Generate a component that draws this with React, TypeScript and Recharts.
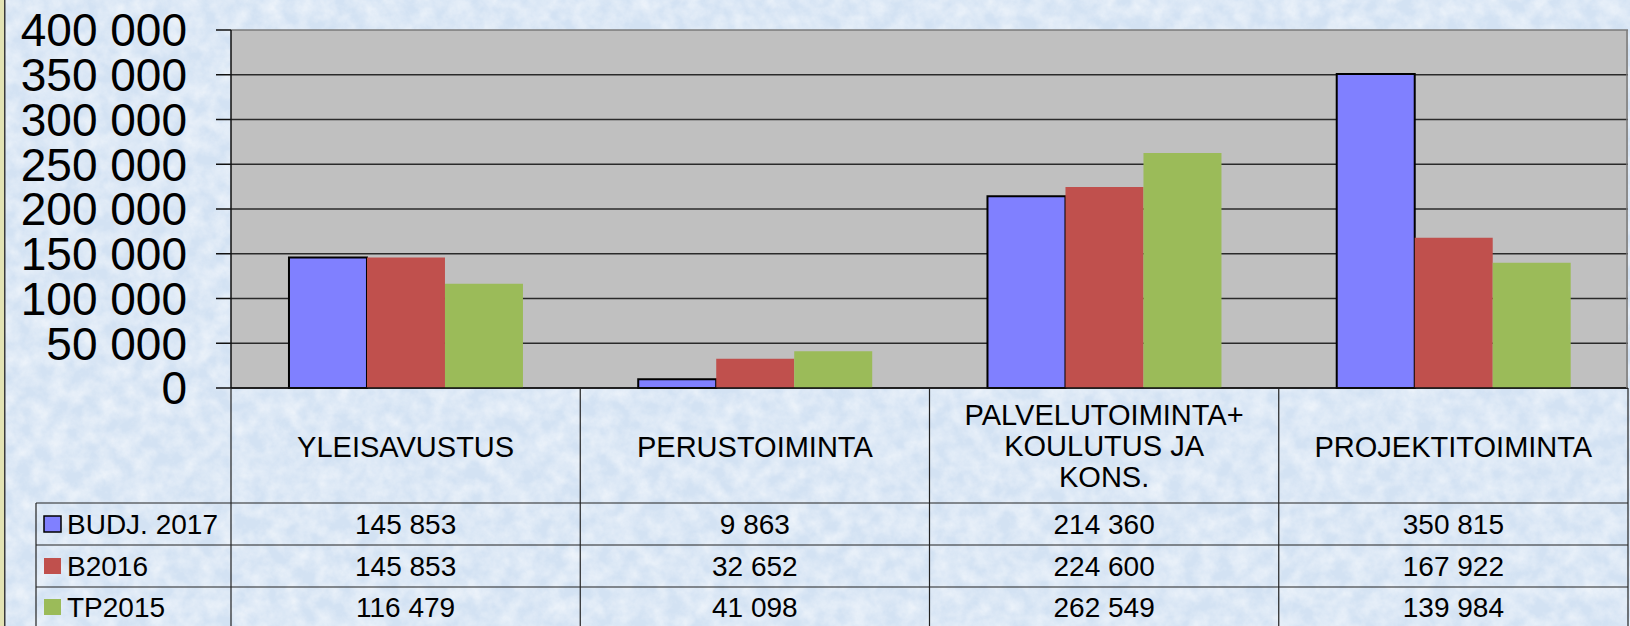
import { BarChart, Bar, XAxis, YAxis, CartesianGrid } from 'recharts'

const categories = ['YLEISAVUSTUS', 'PERUSTOIMINTA', 'PALVELUTOIMINTA+ KOULUTUS JA KONS.', 'PROJEKTITOIMINTA']
const categoryLines = [['YLEISAVUSTUS'], ['PERUSTOIMINTA'], ['PALVELUTOIMINTA+', 'KOULUTUS JA', 'KONS.'], ['PROJEKTITOIMINTA']]
const budj2017 = [145853, 9863, 214360, 350815]
const b2016 = [145853, 32652, 224600, 167922]
const tp2015 = [116479, 41098, 262549, 139984]
const yTicks = [0, 50000, 100000, 150000, 200000, 250000, 300000, 350000, 400000]

const series = [
  { key: 'budj', name: 'BUDJ. 2017', values: budj2017, color: '#8080ff', stroke: '#000' },
  { key: 'b16', name: 'B2016', values: b2016, color: '#c0504d', stroke: 'none' },
  { key: 'tp15', name: 'TP2015', values: tp2015, color: '#9bbb59', stroke: 'none' },
]

const rows = categories.map((c, i) => ({
  name: c,
  budj: budj2017[i],
  b16: b2016[i],
  tp15: tp2015[i],
}))

// layout
const W = 1630
const H = 626
const PLOT_LEFT = 231
const PLOT_RIGHT = 1628
const PLOT_TOP = 30
const AXIS_Y = 388
const BAND = (PLOT_RIGHT - PLOT_LEFT) / categories.length
const TABLE_LEFT = 36
const ROW_TOPS = [115, 157, 199] // relative to axis
const ROW_MID = [136, 178, 219]
const LINE = '#222'
const FONT = "'Liberation Sans', Arial, sans-serif"

const fmt = (n: number) => String(n).replace(/\B(?=(\d{3})+(?!\d))/g, ' ')

function TableTick(props: any) {
  const { x, y, index } = props
  const left = x - BAND / 2
  const right = x + BAND / 2
  const lines = categoryLines[index]
  const lineY = lines.length === 1 ? [59] : [27, 58, 89]
  const last = index === categories.length - 1
  return (
    <g fontFamily={FONT} fontSize={28} fill="#000">
      <line x1={left} y1={y} x2={left} y2={H} stroke={LINE} strokeWidth={1.2} />
      {last && <line x1={right} y1={y} x2={right} y2={H} stroke={LINE} strokeWidth={1.2} />}
      {last && <line x1={right - 1} y1={PLOT_TOP} x2={right - 1} y2={y} stroke="#7a7a7a" strokeWidth={1.5} />}
      {lines.map((t, k) => (
        <text key={k} x={x} y={y + lineY[k]} fontSize={29} textAnchor="middle" dominantBaseline="central">{t}</text>
      ))}
      {ROW_TOPS.map((r, k) => (
        <line key={k} x1={index === 0 ? TABLE_LEFT : left} y1={y + r} x2={right} y2={y + r} stroke={LINE} strokeWidth={1.2} />
      ))}
      {series.map((s, k) => (
        <text key={s.key} x={x} y={y + ROW_MID[k]} textAnchor="middle" dominantBaseline="central">{fmt(s.values[index])}</text>
      ))}
      {index === 0 && (
        <g>
          <line x1={TABLE_LEFT} y1={y + ROW_TOPS[0]} x2={TABLE_LEFT} y2={H} stroke={LINE} strokeWidth={1.2} />
          {series.map((s, k) => (
            <g key={s.key}>
              <rect x={44} y={y + ROW_MID[k] - 8} width={17} height={16} fill={s.color}
                stroke={s.stroke === 'none' ? 'none' : '#000'} strokeWidth={1.5} />
              <text x={67} y={y + ROW_MID[k]} dominantBaseline="central">{s.name}</text>
            </g>
          ))}
        </g>
      )}
    </g>
  )
}

function GridLine(props: any) {
  const { x1, y1, x2, y2 } = props
  return <line x1={x1} y1={y1} x2={x2} y2={y2} stroke={y1 <= PLOT_TOP + 1 ? '#7a7a7a' : '#2a2a2a'} strokeWidth={1.5} />
}

function Texture() {
  return (
    <svg width={W} height={H} style={{ position: 'absolute', left: 0, top: 0 }}>
      <defs>
        <filter id="tex" x="0" y="0" width="100%" height="100%">
          <feTurbulence type="fractalNoise" baseFrequency="0.06" numOctaves={4} seed={7} />
          <feColorMatrix type="matrix" values="0 0 0 0 1  0 0 0 0 1  0 0 0 0 1  1.6 0 0 0 -0.45" />
        </filter>
      </defs>
      <rect width={W} height={H} fill="#d3e2f3" />
      <rect width={W} height={H} filter="url(#tex)" opacity={0.6} />
      <rect x={0} y={0} width={4} height={H} fill="#e3e3b4" />
      <rect x={4} y={0} width={1.5} height={H} fill="#3a3a3a" />
    </svg>
  )
}

export default function App() {
  return (
    <div style={{ position: 'fixed', left: 0, top: 0, width: W, height: H, overflow: 'hidden' }}>
      <Texture />
      <div style={{ position: 'absolute', left: 0, top: 0 }}>
        <BarChart width={W} height={H} data={rows}
          margin={{ top: PLOT_TOP, right: W - PLOT_RIGHT, left: 0, bottom: 0 }}
          barCategoryGap="16.6%" barGap={0}>
          <CartesianGrid vertical={false} fill="#c0c0c0" horizontal={GridLine} />
          <XAxis dataKey="name" height={H - AXIS_Y} interval={0} tickLine={false}
            tickSize={0} tickMargin={0} tick={<TableTick />}
            axisLine={{ stroke: '#111', strokeWidth: 1.5 }} />
          <YAxis width={PLOT_LEFT} domain={[0, 400000]} ticks={yTicks} interval={0}
            tickFormatter={fmt} tickSize={15} tickMargin={29}
            tick={{ fontSize: 46, fill: '#000', fontFamily: FONT }}
            tickLine={{ stroke: '#111', strokeWidth: 1.5 }}
            axisLine={{ stroke: '#111', strokeWidth: 1.5 }} />
          {series.map(s => (
            <Bar key={s.key} dataKey={s.key} name={s.name} fill={s.color}
              stroke={s.stroke} strokeWidth={s.stroke === 'none' ? 0 : 2}
              isAnimationActive={false} />
          ))}
        </BarChart>
      </div>
    </div>
  )
}
